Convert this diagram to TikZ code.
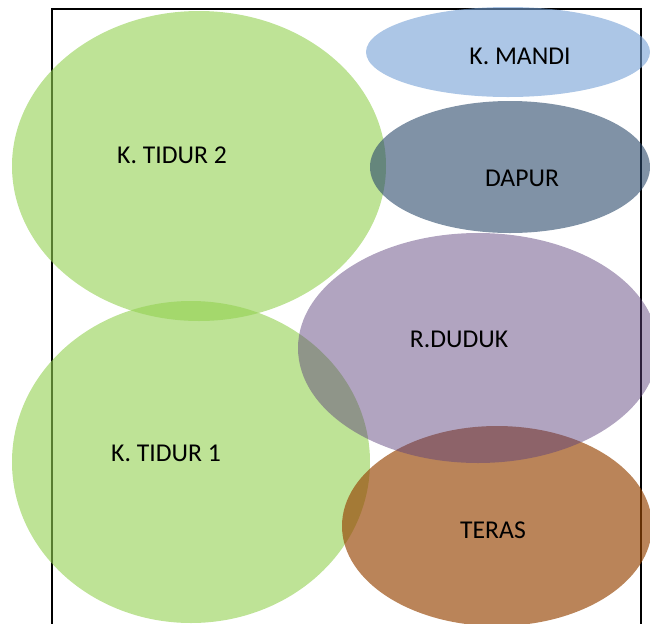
\documentclass[tikz,border=0pt]{standalone}
\usepackage{fontspec}
\setmainfont{Carlito}
\usepackage{tikz}

\definecolor{hijau}{RGB}{146,208,80}
\definecolor{biru}{RGB}{117,160,213}
\definecolor{abu}{RGB}{43,73,107}
\definecolor{ungu}{RGB}{93,65,124}
\definecolor{coklat}{RGB}{152,72,7}

\tikzset{
  ruang/.style={fill opacity=0.6},
  label/.style={font=\fontsize{14.6}{17}\selectfont, text=black}
}

\begin{document}
\begin{tikzpicture}[x=0.02cm, y=-0.02cm]
                \useasboundingbox (0,0) rectangle (650,623);
                \clip (0,0) rectangle (650,623);
                \draw[line width=1pt] (52,9) rectangle (641,660);
                % \coordinate (O) at (0,0);
                \fill[ruang, hijau] (199,166) ellipse [x radius=187, y radius=155];
                \fill[ruang, hijau] (191,462) ellipse [x radius=179, y radius=161];
                \fill[ruang, biru] (508,52) ellipse [x radius=142, y radius=45];
                \fill[ruang, abu] (510,167) ellipse [x radius=140, y radius=66];
                \fill[ruang, coklat, fill opacity=0.67] (497,526) ellipse [x radius=155, y radius=100];
                \fill[ruang, ungu, fill opacity=0.48] (478,348) ellipse [x radius=180, y radius=115];
                \node[label] (mandi) at (520,56) {K. MANDI};
                \node[label] (tidur2) at (172,155) {K. TIDUR 2};
                \node[label] (dapur) at (522,178) {DAPUR};
                \node[label] (duduk) at (459,339) {R.DUDUK};
                \node[label] (tidur1) at (166,453) {K. TIDUR 1};
                \node[label] (teras) at (493,530) {TERAS};
            \end{tikzpicture}
\end{document}
